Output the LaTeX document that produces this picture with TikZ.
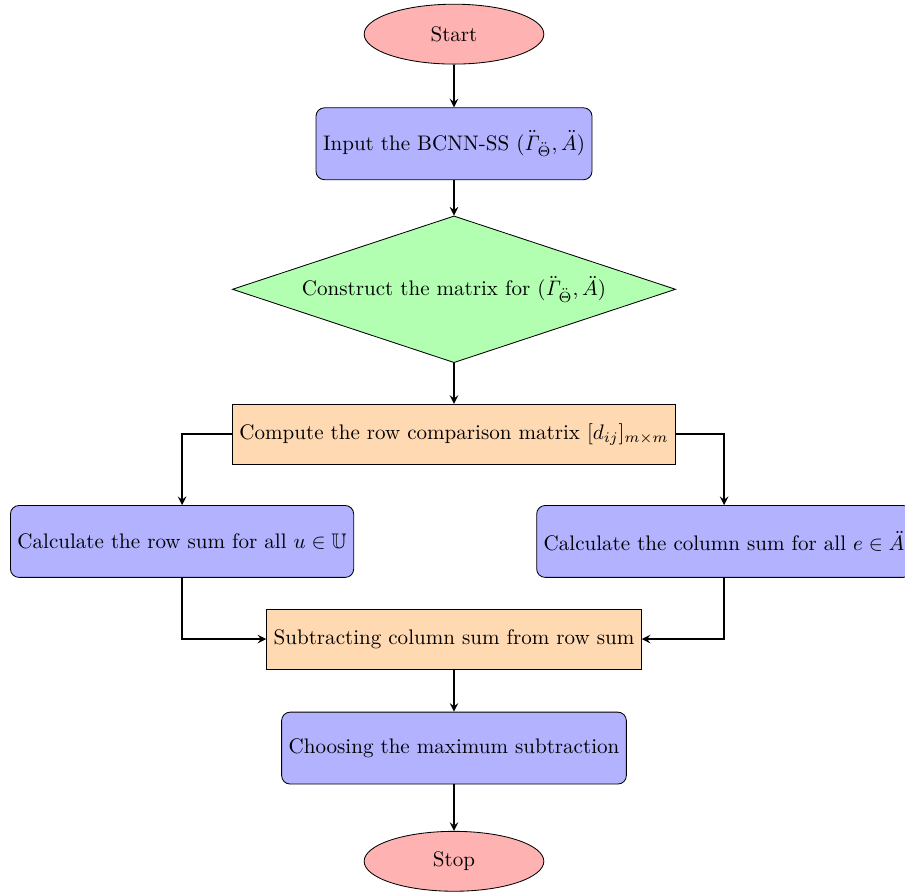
\documentclass[tikz,border=0pt]{standalone}
\usepackage{amsmath}
\usepackage{amssymb}
\usepackage{tikz}
\usetikzlibrary{positioning}
\usetikzlibrary{shapes.geometric,arrows}

\tikzset{
	startstop/.style={ellipse, draw, fill=red!30, minimum width=3cm, minimum height=1cm},
	process/.style={rectangle, rounded corners, draw, fill=blue!30, minimum height=1.2cm},
	decision/.style={diamond, draw, fill=green!30, aspect=3, minimum width=7.4cm, minimum height=2.45cm},
	operation/.style={rectangle, draw, fill=orange!30, minimum height=1cm},
	flow/.style={thick, ->, >=stealth}
}

\begin{document}
\begin{tikzpicture}
		
		\useasboundingbox (-7.58,0.57) rectangle (7.53,-14.35);
		
		% ---------------------
		% Positions
		\coordinate (StartPos) at (0.00cm,0.00cm);
		\path (StartPos) +(0.00cm,-1.83cm) coordinate (InputPos);
		\path (StartPos) +(0.00cm,-4.26cm) coordinate (MatrixPos);
		\path (StartPos) +(0.00cm,-6.68cm) coordinate (ComparePos);
		
		\path (ComparePos) +(-4.54cm,-1.79cm) coordinate (RowSumPos);
		\path (ComparePos) +(+4.51cm,-1.79cm) coordinate (ColSumPos);
		
		\path (StartPos) +(0.00cm,-10.10cm) coordinate (SubtractPos);
		\path (StartPos) +(0.00cm,-11.92cm) coordinate (ChoosePos);
		\path (StartPos) +(0.00cm,-13.81cm) coordinate (StopPos);
		
		% ---------------------
		% Nodes
		\node[startstop] (Start) at (StartPos) {Start};
		\node[process] (Input) at (InputPos) {Input the BCNN-SS $(\ddot{\mathit{\Gamma}}_{\ddot{\Theta}},\ddot{A})$};
		\node[decision] (Matrix) at (MatrixPos) {Construct the matrix for $(\ddot{\mathit{\Gamma}}_{\ddot{\Theta}},\ddot{A})$};
		\node[operation] (Compare) at (ComparePos) {Compute the row comparison matrix $[d_{ij}]_{m\times m}$};
		\node[process] (RowSum) at (RowSumPos) {Calculate the row sum for all $u\in\mathbb{U}$};
		\node[process] (ColSum) at (ColSumPos) {Calculate the column sum for all $e\in\ddot{A}$};
		\node[operation] (Subtract) at (SubtractPos) {Subtracting column sum from row sum};
		\node[process] (Choose) at (ChoosePos) {Choosing the maximum subtraction};
		\node[startstop] (Stop) at (StopPos) {Stop};
		
		% ---------------------
		% Connectors
		\draw[flow] (Start) -- (Input);
		\draw[flow] (Input) -- (Matrix);
		\draw[flow] (Matrix) -- (Compare);
		\draw[flow] (Compare.west) -| (RowSum.north);
		\draw[flow] (Compare.east) -| (ColSum.north);
		\draw[flow] (RowSum.south) |- (Subtract.west);
		\draw[flow] (ColSum.south) |- (Subtract.east);
		\draw[flow] (Subtract) -- (Choose);
		\draw[flow] (Choose) -- (Stop);
		
\end{tikzpicture}
\end{document}
